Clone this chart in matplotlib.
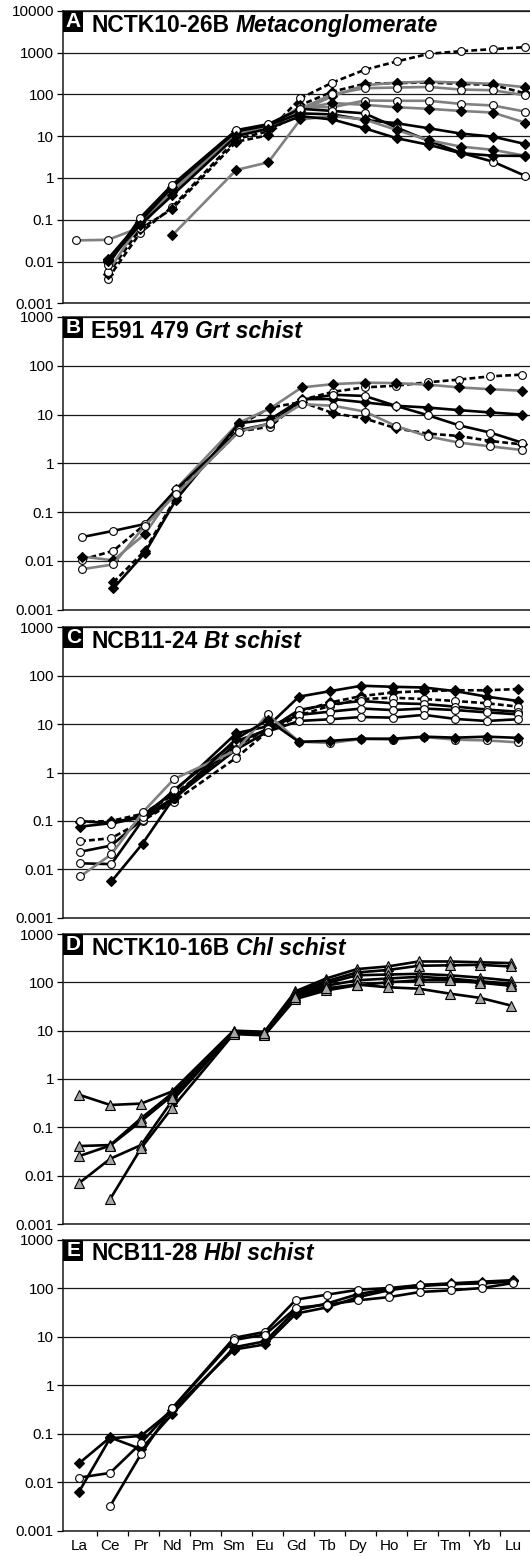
import numpy as np
import matplotlib.pyplot as plt
from matplotlib.patches import Rectangle
from matplotlib.ticker import NullLocator

plt.rcParams["font.family"] = ["Liberation Sans", "DejaVu Sans"]

ree = ["La", "Ce", "Pr", "Nd", "Pm", "Sm", "Eu", "Gd", "Tb", "Dy", "Ho", "Er", "Tm", "Yb", "Lu"]

# chondrite-normalised REE, one row per analysis (Pm not measured)
a_vals = [
    [None, 0.0039, 0.048, 0.2, None, 8.5, 13, 80, 191, 385, 610, 929, 1076, 1202, 1343],
    [None, 0.005, 0.06, 0.18, None, 7.3, 10.5, 55, 116, 178, 186, 192, 178, 168, 106],
    [None, 0.01, 0.07, 0.45, None, 11, 16, 40, 90, 165, 190, 200, 190, 178, 148],
    [0.032, 0.033, 0.065, 0.5, None, 12, 17, 45, 100, 140, 145, 150, 130, 125, 95],
    [None, 0.0057, 0.08, 0.55, None, 12.5, 18, 50, 49, 71, 70, 70, 59, 54, 38.7],
    [None, 0.011, 0.08, 0.5, None, 11, 16, 45, 62, 56, 49, 45, 40, 36.6, 21],
    [None, 0.0116, 0.09, 0.6, None, 13, 18, 35, 33, 24.4, 20.3, 15.4, 11.5, 9.7, 6.5],
    [None, 0.0082, 0.11, 0.68, None, 13.9, 19.3, 45, 40, 35, 16, 7.7, 4.0, 2.45, 1.13],
    [None, None, None, 0.042, None, 1.55, 2.36, 25, 30, 25, 14, 8, 5.6, 4.7, 3.4],
    [None, 0.0105, 0.075, 0.38, None, 10, 15, 30, 25, 15.4, 8.9, 6.2, 3.9, 3.4, 3.36],
]
a_kind = ["k--o", "k--d", "g-d", "g-o", "g-o", "g-d", "k-d", "k-o", "g-d", "k-d"]

b_vals = [
    [0.0105, 0.016, 0.055, 0.24, None, 4.5, 5.66, 20, 29.3, 36, 39, 45.7, 52, 60.7, 65.7],
    [None, 0.0036, 0.016, 0.2, None, 6, 13.9, 18, 10.6, 8.3, 5.2, 4.06, 3.63, 2.86, 2.44],
    [0.0122, 0.0102, 0.035, 0.3, None, 6.8, 13.4, 36, 42, 45, 44, 41, 36, 33, 30.8],
    [None, 0.0027, 0.0143, 0.18, None, 6.6, 8, 20.7, 20.7, 17.7, 15.1, 13.9, 12.3, 11, 10],
    [0.0305, 0.041, 0.0566, 0.29, None, 4.75, 6.5, 20, 25.4, 24, 15, 9.7, 6.0, 4.25, 2.65],
    [0.0067, 0.0084, 0.052, 0.23, None, 4.45, 6.6, 16.3, 15.1, 11.5, 5.8, 3.57, 2.65, 2.22, 1.87],
]
b_kind = ["k--o", "k--d", "g-d", "k-d", "k-o", "g-o"]

c_vals = [
    [0.076, 0.09, 0.13, 0.4, None, 6.5, 9, 36.9, 48, 62, 59, 57, 48, 37, 30],
    [0.094, 0.1, 0.14, 0.35, None, 3.5, 8, 18, 28, 38, 45, 48, 50, 50, 53],
    [0.038, 0.044, 0.1, 0.25, None, 2.03, 7, 15, 24, 33, 35, 33, 30, 27, 23],
    [0.023, 0.031, 0.11, 0.435, None, 4.5, 7.5, 19.6, 25.6, 30, 27, 26, 23, 20, 18],
    [0.0133, 0.0128, 0.104, 0.28, None, 4, 8, 15.5, 18.1, 21, 19.5, 21, 19.5, 17.5, 15.9],
    [0.1, 0.088, 0.12, 0.3, None, 3, 7, 11.6, 12.6, 14, 13.6, 15.5, 12.8, 11.6, 12.6],
    [0.0071, 0.0204, 0.15, 0.73, None, 2.9, 15.9, 4.34, 4.07, 4.93, 4.8, 5.4, 4.77, 4.6, 4.2],
    [None, 0.0056, 0.034, 0.3, None, 5, 12.2, 4.3, 4.5, 5, 5, 5.5, 5.25, 5.5, 5.2],
]
c_kind = ["k-d", "k--d", "k--o", "k-o", "k-o", "k-o", "g-o", "k-d"]

d_vals = [
    [0.47, 0.29, 0.31, 0.55, None, 10, 9.5, 65, 120, 188, 213, 270, 270, 260, 250],
    [0.041, 0.043, 0.154, 0.5, None, 9.5, 9, 60, 105, 160, 180, 220, 225, 230, 213],
    [0.0255, 0.042, 0.134, 0.45, None, 9, 8.5, 55, 95, 140, 145, 150, 140, 125, 108],
    [0.0071, 0.0224, 0.043, 0.35, None, 9, 8.5, 50, 85, 110, 120, 130, 120, 105, 94],
    [None, 0.0033, 0.037, 0.25, None, 8.5, 8, 45, 68, 87, 100, 110, 110, 98, 85],
    [None, None, None, 0.4, None, 9.5, 9, 50, 75, 90, 79, 74, 58.5, 47.6, 33],
]
d_kind = ["k-t"] * 6

e_vals = [
    [0.0245, 0.0836, 0.048, 0.25, None, 6, 8, 35, 48, 75, 95, 115, 125, 135, 145],
    [0.0064, 0.08, 0.09, 0.3, None, 5.4, 6.9, 29.7, 40, 65, 90, 110, 120, 130, 140],
    [0.0124, 0.0155, 0.064, 0.33, None, 9.4, 12.5, 57.7, 73, 92, 100, 115, 120, 125, 135],
    [None, 0.0032, 0.038, 0.33, None, 8.5, 11, 38.9, 45.5, 55.8, 65, 83, 89.6, 100, 127],
]
e_kind = ["k-d", "k-d", "k-o", "k-o"]

panels = [
    ("A", "NCTK10-26B", "Metaconglomerate", a_vals, a_kind, 4),
    ("B", "E591 479", "Grt schist", b_vals, b_kind, 3),
    ("C", "NCB11-24", "Bt schist", c_vals, c_kind, 3),
    ("D", "NCTK10-16B", "Chl schist", d_vals, d_kind, 3),
    ("E", "NCB11-28", "Hbl schist", e_vals, e_kind, 3),
]

W, H = 530, 1556
boxes = [(10.7, 303.3), (317, 609.5), (627.3, 917.7), (934, 1224), (1239.5, 1530.7)]
xlims = [(-0.39, 14.16), (-0.586, 14.26), (-0.534, 14.39), (-0.519, 14.61), (-0.506, 14.55)]
left_px = 63.4

GREY = "#808080"


def draw_series(ax, vals, kinds):
    x = np.arange(len(ree))
    for v, kind in zip(vals, kinds):
        y = np.array(v, dtype=float)
        m = ~np.isnan(y)
        col = "black" if kind[0] == "k" else GREY
        dashed = "--" in kind
        mk = kind[-1]
        kw = dict(color=col, lw=1.9, mec="black", mew=0.8, zorder=3)
        if mk == "o":
            kw.update(marker="o", ms=5.6, mfc="white")
        elif mk == "d":
            kw.update(marker="D", ms=4.8, mfc="black")
        else:
            kw.update(marker="^", ms=6.8, mfc="#a6a6a6")
        line, = ax.plot(x[m], y[m], **kw)
        if dashed:
            line.set_dashes((2.2, 1.2))


fig = plt.figure(figsize=(W / 100, H / 100), dpi=100)

for i, (letter, name, rock, vals, kinds, top) in enumerate(panels):
    t, b = boxes[i]
    hpx = b - t
    ax = fig.add_axes([left_px / W, 1 - b / H, 1 - left_px / W, hpx / H])
    ax.set_yscale("log")
    ax.set_ylim(0.001, 10 ** top)
    ax.set_xlim(*xlims[i])
    ticks = [10.0 ** k for k in range(-3, top + 1)]
    ax.set_yticks(ticks)
    ax.set_yticklabels(["0.001", "0.01", "0.1", "1", "10", "100", "1000", "10000"][:len(ticks)])
    ax.yaxis.set_minor_locator(NullLocator())
    ax.tick_params(axis="y", which="major", length=4.3, width=0.9, pad=2.5, labelsize=11)
    ax.grid(axis="y", which="major", color="#1a1a1a", lw=0.9)
    ax.set_axisbelow(True)
    ax.spines["right"].set_visible(False)
    for s in ("left", "bottom", "top"):
        ax.spines[s].set_color("#1a1a1a")
        ax.spines[s].set_linewidth(1.1)

    if letter == "E":
        ax.set_xticks(range(len(ree)))
        ax.set_xticklabels(ree)
        ax.set_xticks(np.arange(len(ree) - 1) + 0.59, minor=True)
        ax.tick_params(axis="x", which="major", length=0, pad=6, labelsize=11)
        ax.tick_params(axis="x", which="minor", length=3.8, width=0.9)
    else:
        ax.set_xticks([])

    draw_series(ax, vals, kinds)

    # panel label: white letter in a black box, then sample name
    wpx = W - left_px
    ax.add_patch(Rectangle((0, 1), 20 / wpx, -21 / hpx, transform=ax.transAxes,
                           facecolor="black", edgecolor="none", clip_on=False, zorder=5))
    ax.text(10 / wpx, 1 - 10.5 / hpx, letter, transform=ax.transAxes, color="white",
            fontsize=15, fontweight="bold", ha="center", va="center", zorder=6)
    t1 = ax.text((91.3 - left_px) / wpx, 1 - 21 / hpx, name, transform=ax.transAxes,
                 fontsize=16.5, fontweight="bold", ha="left", va="baseline", zorder=6)
    ax.annotate(rock, xy=(1, 0), xycoords=t1, xytext=(4.5, 0), textcoords="offset points",
                fontsize=16.5, fontweight="bold", fontstyle="italic", ha="left", va="bottom",
                zorder=6)

fig.savefig("out.png", dpi=100)
